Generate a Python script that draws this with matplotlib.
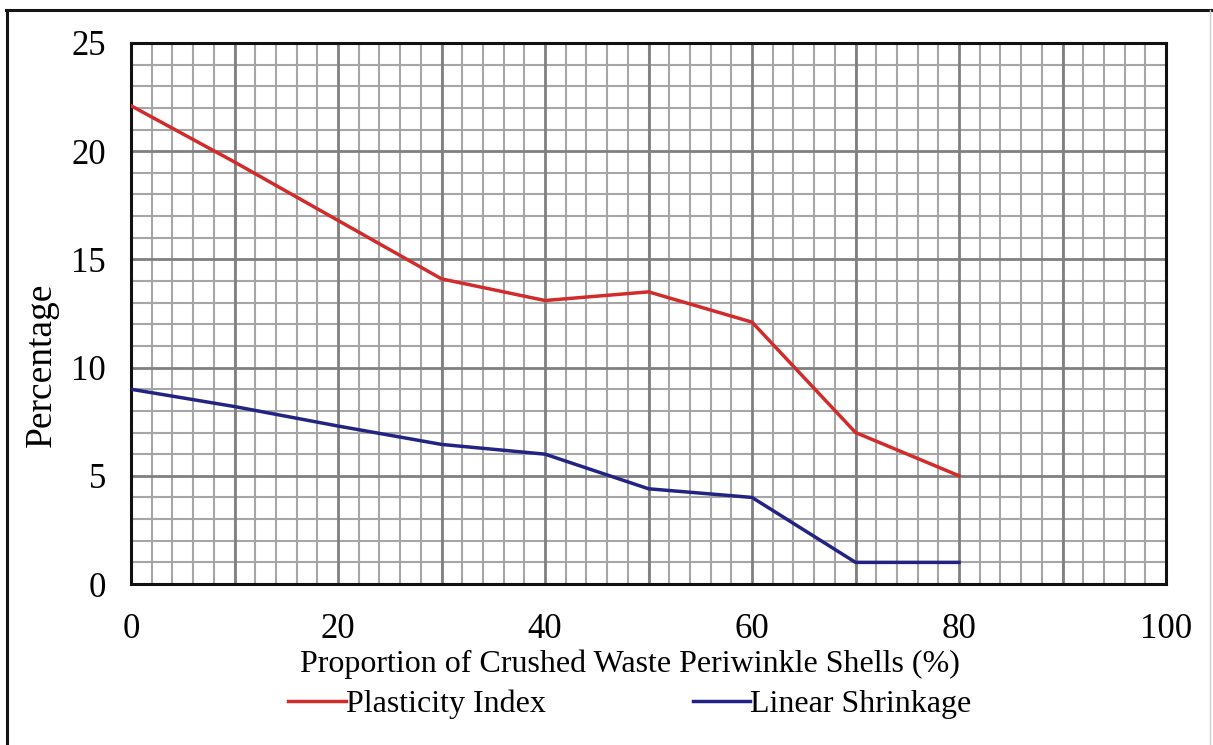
import matplotlib.pyplot as plt
from matplotlib.lines import Line2D
import numpy as np

plt.rcParams['font.family'] = ['Liberation Serif', 'DejaVu Serif']

# proportion of crushed periwinkle shells (%)
proportion = [0, 10, 20, 30, 40, 50, 60, 70, 80]
plasticity_index = [22.1, 19.5, 16.8, 14.1, 13.1, 13.5, 12.1, 7.0, 5.0]
linear_shrinkage = [9.0, 8.2, 7.3, 6.45, 6.0, 4.4, 4.0, 1.0, 1.0]

x_ticks = [0, 20, 40, 60, 80, 100]
y_ticks = [0, 5, 10, 15, 20, 25]

fig = plt.figure(figsize=(12.13, 7.45), dpi=100)
ax = fig.add_axes([0.108, 0.2161, 0.8533, 0.7262])

ax.plot(proportion, plasticity_index, color="#d22b2b", lw=2.5, label="Plasticity Index",
        solid_joinstyle="miter", zorder=5)
ax.plot(proportion, linear_shrinkage, color="#232383", lw=2.5, label="Linear Shrinkage",
        solid_joinstyle="miter", zorder=5)

ax.set_xlim(0, 100)
ax.set_ylim(0, 25)
ax.set_xticks(x_ticks)
ax.set_yticks(y_ticks)
ax.set_xticks(np.arange(0, 101, 2), minor=True)
ax.set_yticks(np.arange(0, 26, 1), minor=True)

# graph-paper grid: heavy lines every 10 / 5, light ones every 2 / 1
ax.grid(which="minor", color="#a6a6a6", lw=1.5)
ax.grid(which="major", axis="y", color="#808080", lw=2.0)
ax.vlines(np.arange(10, 100, 10), 0, 25, color="#808080", lw=2.0, zorder=1.5)
ax.set_axisbelow(True)

ax.tick_params(which="both", length=0)
ax.tick_params(axis="x", labelsize=25, pad=21)
ax.tick_params(axis="y", labelsize=25, pad=18)
for sp in ax.spines.values():
    sp.set_linewidth(2.2)
    sp.set_color("#111111")

ax.set_xlabel("Proportion of Crushed Waste Periwinkle Shells (%)", fontsize=23)
ax.xaxis.set_label_coords(0.482, -0.121)
ax.set_ylabel("Percentage", fontsize=27)
ax.yaxis.set_label_coords(-0.07, 0.405)

ax.legend(loc="center", bbox_to_anchor=(0.482, -0.222), ncol=2, frameon=False,
          fontsize=23, handlelength=1.8, handletextpad=0.0, columnspacing=4.6,
          borderpad=0, borderaxespad=0)

# outer frame around the figure
fig.add_artist(Line2D([0.006, 0.006], [0.0, 0.987], color="#151515", lw=2.2))
fig.add_artist(Line2D([0.005, 1.0], [0.987, 0.987], color="#151515", lw=2.2))
fig.add_artist(Line2D([0.9975, 0.9975], [0.0, 0.987], color="#cccccc", lw=1.0))

plt.savefig("out.png", dpi=100)
